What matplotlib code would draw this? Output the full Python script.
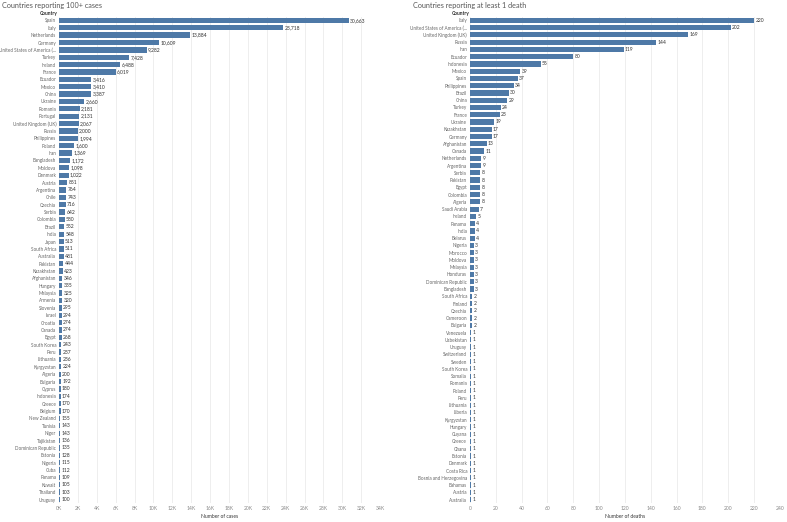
import matplotlib.pyplot as plt
from matplotlib.ticker import FuncFormatter

# --------------------------------------------------------
# Data
# --------------------------------------------------------
case_countries = [
    "Spain", "Italy", "Netherlands", "Germany", "United States of America (...",
    "Turkey", "Ireland", "France", "Ecuador", "Mexico", "China", "Ukraine",
    "Romania", "Portugal", "United Kingdom (UK)", "Russia", "Philippines",
    "Poland", "Iran", "Bangladesh", "Moldova", "Denmark", "Austria",
    "Argentina", "Chile", "Czechia", "Serbia", "Colombia", "Brazil", "India",
    "Japan", "South Africa", "Australia", "Pakistan", "Kazakhstan",
    "Afghanistan", "Hungary", "Malaysia", "Armenia", "Slovenia", "Israel",
    "Croatia", "Canada", "Egypt", "South Korea", "Peru", "Lithuania",
    "Kyrgyzstan", "Algeria", "Bulgaria", "Cyprus", "Indonesia", "Greece",
    "Belgium", "New Zealand", "Tunisia", "Niger", "Tajikistan",
    "Dominican Republic", "Estonia", "Nigeria", "Cuba", "Panama", "Kuwait",
    "Thailand", "Uruguay",
]
cases = [
    30663, 23718, 13884, 10609, 9282, 7428, 6488, 6019, 3416, 3410, 3387,
    2660, 2181, 2131, 2067, 2000, 1994, 1600, 1369, 1172, 1098, 1022, 851,
    764, 743, 716, 642, 580, 552, 548, 513, 511, 481, 444, 423, 346, 335,
    325, 320, 295, 294, 274, 274, 268, 243, 237, 236, 224, 200, 192, 180,
    174, 170, 170, 155, 143, 143, 136, 135, 128, 115, 112, 109, 105, 103, 100,
]

death_countries = [
    "Italy", "United States of America (...", "United Kingdom (UK)", "Russia",
    "Iran", "Ecuador", "Indonesia", "Mexico", "Spain", "Philippines",
    "Brazil", "China", "Turkey", "France", "Ukraine", "Kazakhstan",
    "Germany", "Afghanistan", "Canada", "Netherlands", "Argentina", "Serbia",
    "Pakistan", "Egypt", "Colombia", "Algeria", "Saudi Arabia", "Ireland",
    "Panama", "India", "Belarus", "Nigeria", "Morocco", "Moldova",
    "Malaysia", "Honduras", "Dominican Republic", "Bangladesh",
    "South Africa", "Finland", "Czechia", "Cameroon", "Bulgaria",
    "Venezuela", "Uzbekistan", "Uruguay", "Switzerland", "Sweden",
    "South Korea", "Somalia", "Romania", "Poland", "Peru", "Lithuania",
    "Liberia", "Kyrgyzstan", "Hungary", "Guyana", "Greece", "Ghana",
    "Estonia", "Denmark", "Costa Rica", "Bosnia and Herzegovina", "Bahamas",
    "Austria", "Australia",
]
deaths = [
    220, 202, 169, 144, 119, 80, 55, 39, 37, 34, 30, 29, 24, 23, 19, 17, 17,
    13, 11, 9, 9, 8, 8, 8, 8, 8, 7, 5, 4, 4, 4, 3, 3, 3, 3, 3, 3, 3, 2, 2,
    2, 2, 2, 1, 1, 1, 1, 1, 1, 1, 1, 1, 1, 1, 1, 1, 1, 1, 1, 1, 1, 1, 1, 1,
    1, 1, 1,
]

case_ticks = list(range(0, 34001, 2000))
death_ticks = list(range(0, 241, 20))

BAR = "#4e79a7"
GRID = "#ebebeb"
TXT = "#666666"

plt.rcParams['font.family'] = ['Lato', 'DejaVu Sans']

fig = plt.figure(figsize=(7.87, 5.22), dpi=100)


def draw_panel(rect, names, values, ticks, xmax, fmt, title, xlabel, title_x, header_x):
    ax = fig.add_axes(rect)
    ypos = list(range(len(names)))
    ax.barh(ypos, values, height=0.72, color=BAR, zorder=2)
    ax.set_ylim(len(names) - 0.5, -0.5)
    ax.set_xlim(0, xmax)
    ax.set_yticks(ypos)
    ax.set_yticklabels(names, fontsize=3.3, color=TXT)
    ax.set_xticks(ticks)
    ax.xaxis.set_major_formatter(FuncFormatter(fmt))
    ax.tick_params(axis='both', length=0, pad=2)
    ax.tick_params(axis='x', labelsize=3.6, labelcolor="#888888", pad=2)
    ax.grid(axis='x', color=GRID, linewidth=0.6, zorder=0)
    for s in ax.spines.values():
        s.set_visible(False)
    for y, v in zip(ypos, values):
        ax.text(v + xmax * 0.004, y, f"{v:,}", va='center', ha='left',
                fontsize=3.6, color="#333333")
    ax.set_xlabel(xlabel, fontsize=3.6, color="#333333", labelpad=2)
    fig.text(title_x, 0.997, title, fontsize=5.2, color="#555555",
             ha='left', va='top')
    fig.text(header_x, 0.974, "Country", fontsize=3.6, color="#333333",
             ha='left', va='center', fontweight='bold')
    return ax


draw_panel([0.075, 0.036, 0.408, 0.932], case_countries, cases, case_ticks,
           34000, lambda v, p: f"{int(v / 1000)}K",
           "Countries reporting 100+ cases", "Number of cases", 0.002, 0.05)
draw_panel([0.597, 0.036, 0.394, 0.932], death_countries, deaths, death_ticks,
           240, lambda v, p: f"{int(v)}",
           "Countries reporting at least 1 death", "Number of deaths", 0.525, 0.574)

plt.savefig("out.png", dpi=100)
